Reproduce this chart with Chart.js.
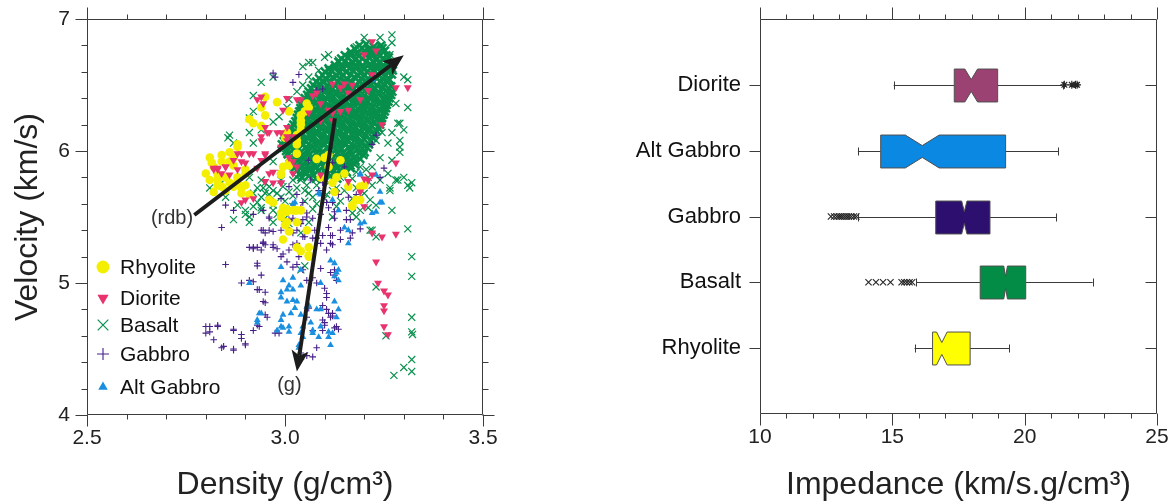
<!DOCTYPE html>
<html>
<head>
<meta charset="utf-8">
<script src="https://cdn.jsdelivr.net/npm/chart.js@4/dist/chart.umd.min.js"></script>
<style>
  html, body { margin: 0; padding: 0; background: #fff; overflow: hidden; }
  #velWrap { position: absolute; left: 0; top: 0; width: 560px; height: 504px; }
  #impWrap { position: absolute; left: 590px; top: 0; width: 583px; height: 504px; }
</style>
</head>
<body>
<div id="velWrap"><canvas id="velChart" width="560" height="504"></canvas></div>
<div id="impWrap"><canvas id="impChart" width="583" height="504"></canvas></div>
<script>
// ---- left panel: density vs velocity, [density, velocity] ----
const rhyolitePts = [
  [2.81,5.95],[2.80,5.83],[2.82,5.88],[2.84,5.97],[2.87,5.95],[2.88,6.03],[2.87,5.89],[2.85,5.80],[2.84,5.73],[2.87,5.73],
  [2.90,5.74],[2.90,5.83],[2.91,5.67],[2.89,5.68],[2.85,5.70],[2.83,5.78],[2.84,5.92],[2.82,5.69],[2.90,5.86],[2.88,5.76],
  [2.95,6.41],[2.98,6.37],[2.94,6.33],[2.95,6.27],[2.91,6.24],[2.92,6.21],[2.94,6.19],[3.01,6.30],[2.88,6.05],
  [3.06,6.33],[3.05,6.30],[3.04,6.27],[3.04,6.23],[3.04,6.20],[3.04,6.16],[3.03,6.12],[3.03,6.08],[3.03,6.05],[3.005,6.14],
  [3.00,6.10],[3.03,5.98],[3.055,6.36],[3.08,5.94],[3.11,5.97],[3.01,5.91],[2.99,5.83],[3.10,5.95],[3.14,5.93],[3.13,5.80],
  [3.12,5.76],[3.15,5.83],[3.125,5.69],[3.16,5.73],[3.19,5.73],[3.20,5.74],[3.18,5.63],[3.19,5.63],[3.17,5.58],[3.11,5.88],
  [3.09,5.80],[2.995,5.88],[3.01,5.89],[2.99,5.82],[2.96,5.63],[2.97,5.61],[2.995,5.57],[3.005,5.54],[3.025,5.55],[3.04,5.55],
  [2.99,5.50],[3.00,5.44],[2.995,5.33],[3.055,5.40],[3.03,5.46],[3.005,5.46],[2.99,5.53],[3.03,5.27],[3.04,5.24],[3.06,5.27],
  [3.06,5.20],[3.17,5.59],[3.005,5.56],[3.02,5.55],[3.01,5.39],[3.06,5.21],[3.03,5.55],
  [2.815,5.91],[2.83,5.82],[2.86,5.76],[2.86,5.92],[2.83,5.74],[2.88,5.80],[2.86,5.99],[2.81,5.78],[2.89,5.72]
];
const dioritePts = [
  [2.82,5.86],[2.83,5.86],[2.85,5.88],[2.86,5.82],[2.88,5.98],[2.89,5.92],[2.91,5.98],[2.88,5.86],[2.90,5.63],[2.92,5.64],
  [2.93,5.87],[2.94,5.93],[2.95,5.97],[2.97,5.84],[2.99,5.76],[3.02,5.92],[2.955,6.14],[2.94,6.08],[3.005,6.11],[2.98,6.14],
  [2.96,5.83],[2.97,5.76],[2.93,6.39],[2.94,6.41],[2.995,6.31],[2.95,6.18],[2.96,6.14],[2.94,6.11],[2.99,6.14],[3.005,6.18],
  [3.005,6.08],[3.02,6.11],[2.99,6.03],[3.01,5.95],[3.03,5.88],[2.95,5.98],[2.92,5.98],[2.89,5.98],[2.90,5.91],[2.87,5.93],
  [2.84,5.83],[2.83,5.87],[2.82,5.87],[2.85,5.88],[2.89,5.61],[2.95,5.77],[2.99,5.76],[3.02,5.83],[3.04,6.39],[3.07,6.42],
  [3.09,6.36],[3.06,6.29],[3.11,6.31],[3.12,6.29],[3.14,6.30],[3.16,6.31],[3.19,6.39],[3.15,6.51],[3.17,6.50],[3.21,6.46],
  [3.22,6.58],[3.22,6.83],[3.23,6.76],[3.20,6.73],[3.28,6.48],[3.31,6.48],[3.16,6.44],[3.14,6.48],[3.12,6.51],[3.09,6.23],
  [3.12,6.23],[3.08,6.44],[3.005,6.40],[3.03,6.39],[2.945,6.36],[3.28,5.91],[3.22,5.82],[3.21,5.78],[3.19,5.69],[3.20,5.58],
  [3.245,6.20],[3.22,5.38],[3.245,5.35],[3.28,5.37],[3.23,5.16],[3.235,5.00],[3.25,4.94],[3.26,4.91],[3.25,4.83],[3.25,4.79],
  [3.25,4.67],[3.26,4.61],[3.20,5.79],[3.09,5.82],[3.16,5.77]
];
// densely overplotted centre of the basalt cloud
const basaltCorePts = [
  [3.188,6.80],[3.205,6.81],[3.224,6.79],[3.243,6.80],
  [3.176,6.775],[3.194,6.78],[3.211,6.77],[3.229,6.775],[3.246,6.78],
  [3.166,6.75],[3.183,6.74],[3.201,6.76],[3.219,6.75],[3.236,6.74],[3.252,6.76],
  [3.151,6.725],[3.168,6.73],[3.186,6.72],[3.204,6.725],[3.222,6.73],[3.239,6.72],[3.256,6.725],
  [3.142,6.70],[3.159,6.71],[3.177,6.69],[3.195,6.70],[3.213,6.71],[3.230,6.69],[3.247,6.70],[3.262,6.71],
  [3.135,6.675],[3.152,6.68],[3.170,6.67],[3.188,6.675],[3.206,6.68],[3.224,6.67],[3.241,6.675],[3.258,6.68],
  [3.126,6.65],[3.144,6.64],[3.161,6.66],[3.180,6.65],[3.197,6.64],[3.215,6.66],[3.233,6.65],[3.250,6.64],[3.266,6.66],
  [3.110,6.625],[3.127,6.63],[3.145,6.62],[3.163,6.625],[3.181,6.63],[3.199,6.62],[3.216,6.625],[3.234,6.63],[3.251,6.62],[3.266,6.625],
  [3.101,6.60],[3.118,6.61],[3.136,6.59],[3.154,6.60],[3.172,6.61],[3.190,6.59],[3.207,6.60],[3.225,6.61],[3.243,6.59],[3.259,6.60],[3.272,6.61],
  [3.095,6.575],[3.112,6.58],[3.130,6.57],[3.148,6.575],[3.166,6.58],[3.184,6.57],[3.202,6.575],[3.220,6.58],[3.238,6.57],[3.255,6.575],[3.270,6.58],
  [3.086,6.55],[3.104,6.54],[3.121,6.56],[3.139,6.55],[3.157,6.54],[3.175,6.56],[3.193,6.55],[3.211,6.54],[3.229,6.56],[3.246,6.55],[3.264,6.54],
  [3.079,6.525],[3.097,6.53],[3.115,6.52],[3.133,6.525],[3.151,6.53],[3.169,6.52],[3.187,6.525],[3.205,6.53],[3.223,6.52],[3.241,6.525],[3.259,6.53],
  [3.071,6.50],[3.088,6.51],[3.106,6.49],[3.124,6.50],[3.142,6.51],[3.160,6.49],[3.178,6.50],[3.196,6.51],[3.214,6.49],[3.232,6.50],[3.250,6.51],[3.268,6.49],
  [3.066,6.475],[3.084,6.48],[3.102,6.47],[3.120,6.475],[3.138,6.48],[3.156,6.47],[3.174,6.475],[3.192,6.48],[3.210,6.47],[3.228,6.475],[3.246,6.48],[3.263,6.47],
  [3.060,6.45],[3.078,6.44],[3.096,6.46],[3.113,6.45],[3.131,6.44],[3.149,6.46],[3.167,6.45],[3.185,6.44],[3.203,6.46],[3.221,6.45],[3.239,6.44],[3.257,6.46],[3.271,6.45],
  [3.056,6.425],[3.074,6.43],[3.092,6.42],[3.110,6.425],[3.128,6.43],[3.146,6.42],[3.164,6.425],[3.182,6.43],[3.200,6.42],[3.218,6.425],[3.236,6.43],[3.254,6.42],[3.268,6.425],
  [3.050,6.40],[3.068,6.41],[3.086,6.39],[3.104,6.40],[3.122,6.41],[3.140,6.39],[3.158,6.40],[3.176,6.41],[3.194,6.39],[3.212,6.40],[3.230,6.41],[3.248,6.39],[3.264,6.40],
  [3.046,6.375],[3.064,6.38],[3.082,6.37],[3.100,6.375],[3.118,6.38],[3.136,6.37],[3.154,6.375],[3.172,6.38],[3.190,6.37],[3.208,6.375],[3.226,6.38],[3.244,6.37],[3.261,6.375],
  [3.041,6.35],[3.059,6.34],[3.077,6.36],[3.095,6.35],[3.113,6.34],[3.131,6.36],[3.149,6.35],[3.167,6.34],[3.185,6.36],[3.203,6.35],[3.221,6.34],[3.239,6.36],[3.257,6.35],
  [3.039,6.325],[3.057,6.33],[3.075,6.32],[3.093,6.325],[3.111,6.33],[3.129,6.32],[3.147,6.325],[3.165,6.33],[3.183,6.32],[3.201,6.325],[3.219,6.33],[3.237,6.32],[3.255,6.325],
  [3.036,6.30],[3.054,6.31],[3.072,6.29],[3.090,6.30],[3.108,6.31],[3.126,6.29],[3.144,6.30],[3.162,6.31],[3.180,6.29],[3.198,6.30],[3.216,6.31],[3.234,6.29],[3.252,6.30],
  [3.033,6.275],[3.051,6.28],[3.069,6.27],[3.087,6.275],[3.105,6.28],[3.123,6.27],[3.141,6.275],[3.159,6.28],[3.177,6.27],[3.195,6.275],[3.213,6.28],[3.231,6.27],[3.249,6.275],
  [3.030,6.25],[3.047,6.24],[3.065,6.26],[3.083,6.25],[3.101,6.24],[3.119,6.26],[3.137,6.25],[3.155,6.24],[3.173,6.26],[3.191,6.25],[3.209,6.24],[3.227,6.26],[3.245,6.25],
  [3.026,6.225],[3.044,6.23],[3.062,6.22],[3.080,6.225],[3.098,6.23],[3.116,6.22],[3.134,6.225],[3.152,6.23],[3.170,6.22],[3.188,6.225],[3.206,6.23],[3.224,6.22],[3.243,6.225],
  [3.021,6.20],[3.039,6.21],[3.057,6.19],[3.075,6.20],[3.093,6.21],[3.111,6.19],[3.129,6.20],[3.147,6.21],[3.165,6.19],[3.183,6.20],[3.201,6.21],[3.219,6.19],[3.240,6.20],
  [3.017,6.175],[3.035,6.18],[3.053,6.17],[3.071,6.175],[3.089,6.18],[3.107,6.17],[3.125,6.175],[3.143,6.18],[3.161,6.17],[3.179,6.175],[3.197,6.18],[3.215,6.17],[3.236,6.175],
  [3.012,6.15],[3.030,6.14],[3.048,6.16],[3.066,6.15],[3.084,6.14],[3.102,6.16],[3.120,6.15],[3.138,6.14],[3.156,6.16],[3.174,6.15],[3.192,6.14],[3.210,6.16],[3.232,6.15],
  [3.007,6.125],[3.025,6.13],[3.043,6.12],[3.061,6.125],[3.079,6.13],[3.097,6.12],[3.115,6.125],[3.133,6.13],[3.151,6.12],[3.169,6.125],[3.187,6.13],[3.205,6.12],[3.226,6.125],
  [3.002,6.10],[3.020,6.11],[3.038,6.09],[3.056,6.10],[3.074,6.11],[3.092,6.09],[3.110,6.10],[3.128,6.11],[3.146,6.09],[3.164,6.10],[3.182,6.11],[3.200,6.09],[3.222,6.10],
  [2.997,6.075],[3.015,6.08],[3.033,6.07],[3.051,6.075],[3.069,6.08],[3.087,6.07],[3.105,6.075],[3.123,6.08],[3.141,6.07],[3.159,6.075],[3.177,6.08],[3.195,6.07],[3.216,6.075],
  [2.992,6.05],[3.011,6.04],[3.029,6.06],[3.047,6.05],[3.065,6.04],[3.083,6.06],[3.101,6.05],[3.119,6.04],[3.137,6.06],[3.155,6.05],[3.173,6.04],[3.191,6.06],[3.212,6.05],
  [2.996,6.025],[3.016,6.03],[3.034,6.02],[3.052,6.025],[3.070,6.03],[3.088,6.02],[3.106,6.025],[3.124,6.03],[3.142,6.02],[3.160,6.025],[3.178,6.03],[3.196,6.02],[3.208,6.025],
  [3.003,6.00],[3.021,6.01],[3.039,5.99],[3.057,6.00],[3.075,6.01],[3.093,5.99],[3.111,6.00],[3.129,6.01],[3.147,5.99],[3.165,6.00],[3.183,6.01],[3.201,5.99],
  [3.007,5.975],[3.025,5.98],[3.043,5.97],[3.061,5.975],[3.079,5.98],[3.097,5.97],[3.115,5.975],[3.133,5.98],[3.151,5.97],[3.169,5.975],[3.187,5.98],[3.198,5.97],
  [3.012,5.95],[3.030,5.94],[3.048,5.96],[3.066,5.95],[3.084,5.94],[3.102,5.96],[3.120,5.95],[3.138,5.94],[3.156,5.96],[3.174,5.95],[3.190,5.94],
  [3.016,5.925],[3.034,5.93],[3.052,5.92],[3.070,5.925],[3.088,5.93],[3.106,5.92],[3.124,5.925],[3.142,5.93],[3.160,5.92],[3.178,5.925],
  [3.021,5.90],[3.039,5.91],[3.057,5.89],[3.075,5.90],[3.093,5.91],[3.111,5.89],[3.129,5.90],[3.147,5.91],[3.165,5.89],[3.176,5.90],
  [3.025,5.875],[3.043,5.88],[3.061,5.87],[3.079,5.875],[3.097,5.88],[3.115,5.87],[3.133,5.875],[3.151,5.88],[3.166,5.87],
  [3.030,5.85],[3.048,5.84],[3.066,5.86],[3.084,5.85],[3.102,5.84],[3.120,5.86],[3.138,5.85],[3.156,5.84],
  [3.036,5.825],[3.054,5.83],[3.072,5.82],[3.090,5.825],[3.108,5.83],[3.126,5.82],[3.144,5.825],
  [3.042,5.80],[3.060,5.81],[3.078,5.79],[3.096,5.80],[3.114,5.81],[3.132,5.79]
];
// scattered basalt samples around the core
const basaltPts = [
  [2.81,5.72],[2.856,6.10],[2.94,6.52],[2.92,6.42],[3.31,6.54],[3.31,6.33],[3.29,6.21],[3.29,5.99],[3.30,5.80],[3.32,5.76],
  [3.27,5.55],[3.27,6.88],[3.24,6.86],[3.18,6.79],[3.11,6.73],[3.06,6.67],[2.97,6.56],[3.31,5.41],[3.22,5.40],[3.32,5.20],
  [3.32,5.05],[3.23,4.97],[3.32,4.74],[3.32,4.63],[3.322,4.61],[3.255,4.60],[3.32,4.42],[3.30,4.36],[3.32,4.33],[3.275,4.30],
  [3.31,5.74],[3.28,5.78],[3.265,5.70],[2.86,6.12],[2.87,5.48],[2.91,5.50],[2.94,5.57],[2.92,5.58],[3.04,5.10],[3.05,5.13],
  [2.92,6.30],[2.91,6.25],[3.045,6.64],[3.07,6.67],[3.10,6.71],[3.135,6.69],[3.145,6.63],[3.11,6.61],[3.085,6.61],[3.06,6.56],
  [3.045,6.50],[3.03,6.45],[3.01,6.39],[3.005,6.33],[2.985,6.26],[2.94,6.16],[2.97,6.22],[3.20,6.86],[3.27,6.82],[3.265,6.73],
  [3.30,6.56],[3.28,6.36],[3.285,6.21],[3.30,6.16],[3.27,6.14],[3.29,6.08],[3.29,6.03],[3.27,5.93],[3.26,5.83],[3.285,5.78],
  [3.265,5.72],[3.315,5.72],[3.24,5.78],[3.22,5.88],[3.24,5.95],[3.26,6.06],[3.23,6.08],[3.245,6.14],
  [2.91,5.80],[2.93,5.72],[2.95,5.68],[2.96,5.73],[2.94,5.78],[2.98,5.68],[2.99,5.65],[2.93,5.61],[2.97,5.55],[3.04,5.78],
  [3.05,5.70],[3.07,5.65],[3.055,5.74],[3.165,5.91],[3.19,5.88],[3.205,5.86],[3.17,5.79],[3.20,5.68],[3.215,5.63],[3.23,5.59],
  [3.21,5.57],[3.17,5.53],[3.19,5.55],[3.15,5.70],[3.12,5.70],[3.105,5.67],[3.01,5.45],[3.04,5.38],[2.97,5.46],[3.215,5.40],
  [3.23,5.35],[2.91,6.14],[2.87,6.06],[2.84,5.76],[2.85,5.65],[2.88,5.59],[2.90,5.55],[2.92,5.68],[2.945,5.72],[2.94,5.65],
  [2.96,5.67],[2.97,5.59],[2.91,5.46],[2.90,5.52],[2.94,5.55],[2.995,5.73],[3.01,5.69],[3.02,5.78],[2.99,5.83],[3.005,5.88],
  [3.03,5.86],[2.97,5.92],[2.99,6.01],[3.005,5.98],[2.92,6.06],
  [2.95,5.76],[2.97,5.70],[2.99,5.78],[3.00,5.62],[3.02,5.66],[3.03,5.72],[3.05,5.62],[3.06,5.68],[3.08,5.74],[3.08,5.60],
  [3.10,5.64],[3.11,5.76],[3.13,5.72],[3.14,5.62],[3.16,5.76],[3.17,5.64],[3.18,5.72],[3.13,5.58],[3.07,5.56],[3.02,5.58],
  [2.98,5.52],[3.00,5.49],[3.06,5.46],[3.12,5.50],[3.18,5.50],[3.14,5.80],[3.18,5.84],[3.21,5.80],[3.22,5.74],[3.03,5.80]
];
const gabbroPts = [
  [2.97,6.59],[2.975,6.56],[3.035,6.58],[3.02,6.52],[3.08,6.46],[3.095,6.47],
  [2.91,5.27],[2.93,5.27],[2.945,5.30],[2.95,5.38],[2.93,5.15],[2.85,5.14],[2.94,5.06],[2.92,5.01],[2.93,4.95],[2.95,4.93],
  [2.89,5.00],[2.95,4.85],[2.95,4.76],[2.955,4.74],[2.93,4.68],[2.92,4.64],[2.89,4.61],[2.89,4.58],[2.87,4.64],[2.81,4.67],
  [2.81,4.63],[2.83,4.67],[2.82,4.57],[2.90,4.53],[2.87,4.49],[2.84,4.51],[2.975,4.62],[2.985,4.62],[2.97,5.39],[2.98,5.26],
  [2.995,5.22],[3.01,5.25],[3.02,5.29],[3.005,5.16],[3.02,5.12],[3.03,5.14],[3.045,5.10],[3.055,5.02],[3.07,5.04],[3.08,5.00],
  [3.10,4.96],[3.105,4.89],[3.095,4.83],[3.105,4.80],[3.12,4.77],[3.115,4.74],[3.095,4.72],[3.10,4.68],[3.125,4.66],[3.13,4.67],
  [3.06,4.81],[3.055,4.74],[3.07,4.64],[3.08,4.51],[3.055,4.45],[3.07,4.44],[3.04,4.42],[3.04,4.47],[3.115,5.08],[3.13,5.02],
  [3.125,5.10],[3.09,5.11],[3.115,5.30],[3.12,5.36],[3.095,5.36],[3.02,5.38],[3.045,5.35],[3.08,5.34],[2.99,5.20],[3.035,5.20],
  [3.105,5.61],[3.125,5.54],[3.155,5.48],[3.19,5.41],[3.17,5.38],[3.14,5.33],[3.12,5.29],[3.105,5.25],[3.125,5.06],[3.105,4.92],
  [3.11,4.77],[3.12,4.75],[3.10,4.70],[3.135,4.65],[3.095,4.64],
  [2.91,5.02],[2.935,4.95],[2.92,5.26],[2.94,5.25],[2.93,5.13],[2.945,4.86],[2.935,4.67],[2.90,4.54],[2.87,4.50],[2.845,4.52],
  [2.87,4.65],[2.80,4.67],[2.80,4.62],[2.83,4.68],
  [2.92,5.52],[2.945,5.55],[2.945,5.40],[2.96,5.50],[2.945,5.31],[2.97,5.27],[3.01,5.73],[3.03,5.67],[3.045,5.61],[3.055,5.53],
  [3.07,5.49],[3.045,5.48],[3.03,5.40],[3.05,5.35],[3.03,5.30],[3.075,5.40],[3.09,5.52],[3.11,5.57],[3.12,5.61],[3.135,5.67],
  [3.11,5.42],[3.125,5.49],[3.14,5.40],[3.115,5.36],[3.155,5.55],[3.16,5.65],[3.085,5.70],[3.095,5.76],[3.12,5.91],[3.15,5.88],
  [3.065,5.78],[3.06,5.93],[3.18,5.67],[3.165,5.48],[3.165,5.34],[3.09,5.30],[3.07,5.34],[2.96,5.40],[2.99,5.40],[3.02,5.49],
  [3.005,5.42],[2.84,5.42],[2.85,5.59],[2.87,5.55],[2.94,5.40],[2.95,5.29],[2.97,5.29],[2.96,5.49],[2.99,5.50],[3.01,5.48],
  [3.04,5.45],[3.055,5.50],[2.97,5.62],[2.99,5.64],[3.04,5.57],[2.92,5.27],[3.23,6.12],[3.22,6.05],[3.25,5.87],[3.24,5.80]
];
const altGabbroPts = [
  [2.995,5.02],[3.01,4.98],[3.02,5.04],[2.99,4.93],[3.005,4.86],[3.03,4.86],[3.025,4.81],[3.015,4.77],[2.995,4.76],[2.99,4.72],
  [2.98,4.64],[2.995,4.66],[3.01,4.67],[2.94,4.77],[2.93,4.70],[3.04,4.76],[3.045,4.67],[3.065,4.70],[3.07,4.64],[3.09,4.67],
  [3.085,4.59],[3.11,4.59],[3.12,4.62],[3.045,4.59],[3.06,4.83],[3.08,4.80],[3.125,5.15],[3.135,5.10],[3.125,5.05],[3.115,5.17],
  [3.125,4.86],[3.135,4.80],[3.13,4.74],[3.115,4.53],[3.035,4.51],[3.02,4.95],[3.04,4.98],[2.99,5.12],[3.04,5.10],[3.005,4.95],
  [3.02,4.87],[2.99,4.67],[3.01,4.63],[3.04,4.62],[3.07,4.62],[3.11,4.63],[3.035,4.53],[3.09,5.00],[3.13,5.08],[3.135,5.02],
  [3.15,5.42],[3.16,5.40],[3.19,5.45],[3.22,5.53],[3.24,5.61],[3.16,5.30],[3.09,4.80],[3.055,4.82],[2.99,4.89],[2.91,5.00],
  [3.085,5.68],[3.24,5.69],[3.245,5.61],[3.23,5.54],[3.20,5.46],[3.19,5.82],[3.025,5.61],[3.135,5.55],[2.935,4.77],[2.93,4.72],
  [3.22,6.54],[3.23,5.82],[3.02,5.60],[3.09,5.67],[3.12,5.63],[3.19,5.83]
];
const velTicksX = [2.5, 3.0, 3.5];
const velTicksY = [4, 5, 6, 7];
// arrows and their labels, in data units
const rdbArrow = [[2.771, 5.515], [3.300, 6.725]];
const gArrow = [[3.126, 6.248], [3.030, 4.330]];
const rdbLabel = [2.768, 5.49];
const gLabel = [3.011, 4.225];

// ---- right panel: impedance box plots ----
const boxCats = ['Diorite', 'Alt Gabbro', 'Gabbro', 'Basalt', 'Rhyolite'];
const boxLow = [15.05, 13.70, 13.72, 15.91, 15.84];
const boxQ1 = [17.34, 14.56, 16.64, 18.32, 16.52];
const boxMedian = [17.98, 16.13, 17.72, 19.28, 16.87];
const boxQ3 = [18.98, 19.28, 18.69, 20.04, 17.94];
const boxHigh = [21.43, 21.26, 21.20, 22.57, 19.42];
const boxNotch = [0.24, 0.64, 0.10, 0.07, 0.20];
const outDiorite = [21.50, 21.78, 21.92, 21.98];
const outGabbro = [12.68, 12.80, 12.90, 12.98, 13.05, 13.12, 13.20, 13.28, 13.36, 13.45, 13.55, 13.64];
const outBasalt = [14.10, 14.38, 14.65, 14.93, 15.35, 15.45, 15.55, 15.65, 15.75];
const impTicksX = [10, 15, 20, 25];

const FONT = "'Liberation Sans', Arial, Helvetica, sans-serif";
Chart.defaults.font.family = FONT;
Chart.defaults.color = '#222';

const COL = {
  rhyolite: '#f4ef00',
  diorite: '#e8336d',
  basalt: '#07904c',
  gabbro: '#47208a',
  altGabbro: '#1a8fe0'
};
const boxColors = ['#9b4272', '#0a88e2', '#2d0f6f', '#038c46', '#ffff00'];

const toXY = pts => pts.map(p => ({ x: p[0], y: p[1] }));

// stop tick labels from adding their own padding, so layout.padding sets the plot box
const noLabelPad = s => { s.paddingTop = 0; s.paddingBottom = 0; s.paddingLeft = 0; s.paddingRight = 0; };

function drawFrame(chart, cfg) {
  const { ctx, chartArea: a, scales: { x, y } } = chart;
  const L = Math.round(a.left) + 0.5, R = Math.round(a.right) - 0.5;
  const T = Math.round(a.top) + 0.5, B = Math.round(a.bottom) - 0.5;
  ctx.save();
  ctx.strokeStyle = '#3c3c3c';
  ctx.lineWidth = 1;
  ctx.beginPath();
  ctx.rect(L, T, R - L, B - T);
  const nx = Math.round((cfg.xMax - cfg.xMin) / cfg.xStep);
  for (let i = 0; i <= nx; i++) {
    const px = Math.round(x.getPixelForValue(cfg.xMin + i * cfg.xStep)) + 0.5;
    const len = i % cfg.xMajor === 0 ? 12 : 5;
    ctx.moveTo(px, B); ctx.lineTo(px, B + len);
    ctx.moveTo(px, T); ctx.lineTo(px, T - len);
  }
  const ny = Math.round((cfg.yMax - cfg.yMin) / cfg.yStep);
  for (let i = 0; i <= ny; i++) {
    const py = Math.round(y.getPixelForValue(cfg.yMin + i * cfg.yStep)) + 0.5;
    const len = i % cfg.yMajor === 0 ? cfg.yMajorLen : 6;
    ctx.moveTo(L, py); ctx.lineTo(L - len, py);
    ctx.moveTo(R, py); ctx.lineTo(cfg.rightIn ? R - len : R + len, py);
  }
  ctx.stroke();
  ctx.restore();
}

function drawArrow(ctx, x0, y0, x1, y1) {
  const ang = Math.atan2(y1 - y0, x1 - x0);
  const c = Math.cos(ang), s = Math.sin(ang);
  const head = 21, half = 8.5, back = 5;
  ctx.beginPath();
  ctx.moveTo(x0, y0);
  ctx.lineTo(x1 - (head - back) * c, y1 - (head - back) * s);
  ctx.stroke();
  const bx = x1 - head * c, by = y1 - head * s;
  ctx.beginPath();
  ctx.moveTo(x1, y1);
  ctx.lineTo(bx - half * s, by + half * c);
  ctx.lineTo(x1 - (head - back) * c, y1 - (head - back) * s);
  ctx.lineTo(bx + half * s, by - half * c);
  ctx.closePath();
  ctx.fill();
}

const velFramePlugin = {
  id: 'velFrame',
  afterDraw(chart) {
    drawFrame(chart, { xMin: 2.5, xMax: 3.5, xStep: 0.1, xMajor: 5, yMin: 4, yMax: 7, yStep: 0.2, yMajor: 5, yMajorLen: 12 });
  }
};

const velNotesPlugin = {
  id: 'velNotes',
  afterDatasetsDraw(chart) {
    const { ctx, scales: { x, y }, chartArea: a } = chart;
    ctx.save();
    ctx.strokeStyle = '#1c1c1c';
    ctx.fillStyle = '#1c1c1c';
    ctx.lineWidth = 4;
    [rdbArrow, gArrow].forEach(ar => {
      drawArrow(ctx, x.getPixelForValue(ar[0][0]), y.getPixelForValue(ar[0][1]),
        x.getPixelForValue(ar[1][0]), y.getPixelForValue(ar[1][1]));
    });
    ctx.fillStyle = '#333';
    ctx.font = '20px ' + FONT;
    ctx.textBaseline = 'middle';
    ctx.textAlign = 'right';
    ctx.fillText('(rdb)', x.getPixelForValue(rdbLabel[0]), y.getPixelForValue(rdbLabel[1]));
    ctx.textAlign = 'center';
    ctx.fillText('(g)', x.getPixelForValue(gLabel[0]), y.getPixelForValue(gLabel[1]));

    // legend, inside the plot area at lower left (first five datasets)
    const rows = [248, 279, 306, 335, 368];
    const sizes = [6.5, 6.5, 7.5, 6, 5.5];
    ctx.textAlign = 'left';
    chart.data.datasets.slice(0, 5).forEach((ds, k) => {
      const cx = a.left + 16, cy = a.top + rows[k];
      ctx.save();
      ctx.fillStyle = ds.backgroundColor;
      ctx.strokeStyle = ds.borderColor;
      ctx.lineWidth = ds.borderWidth || 1;
      Chart.helpers.drawPoint(ctx, {
        pointStyle: ds.pointStyle, rotation: ds.rotation || 0,
        radius: sizes[k], borderWidth: ds.borderWidth
      }, cx, cy);
      ctx.restore();
      ctx.font = '21px ' + FONT;
      ctx.fillStyle = '#111';
      ctx.fillText(ds.label, a.left + 33, cy + 1);
    });
    ctx.restore();
  }
};

new Chart(document.getElementById('velChart'), {
  type: 'scatter',
  data: {
    datasets: [
      { label: 'Rhyolite', data: toXY(rhyolitePts), pointStyle: 'circle', pointRadius: 4.3,
        backgroundColor: COL.rhyolite, borderColor: COL.rhyolite, borderWidth: 0, order: 2 },
      { label: 'Diorite', data: toXY(dioritePts), pointStyle: 'triangle', rotation: 180, pointRadius: 4.6,
        backgroundColor: COL.diorite, borderColor: COL.diorite, borderWidth: 0, order: 1 },
      { label: 'Basalt', data: toXY(basaltPts), pointStyle: 'crossRot', pointRadius: 5,
        backgroundColor: COL.basalt, borderColor: COL.basalt, borderWidth: 1.2, order: 5 },
      { label: 'Gabbro', data: toXY(gabbroPts), pointStyle: 'cross', pointRadius: 3.3,
        backgroundColor: COL.gabbro, borderColor: COL.gabbro, borderWidth: 1.1, order: 4 },
      { label: 'Alt Gabbro', data: toXY(altGabbroPts), pointStyle: 'triangle', pointRadius: 3.9,
        backgroundColor: COL.altGabbro, borderColor: COL.altGabbro, borderWidth: 0, order: 3 },
      { label: 'Basalt', data: toXY(basaltCorePts), pointStyle: 'crossRot', pointRadius: 5.6,
        backgroundColor: COL.basalt, borderColor: COL.basalt, borderWidth: 2.6, order: 6 }
    ]
  },
  options: {
    responsive: false,
    animation: false,
    events: [],
    layout: { padding: { top: 19, right: 77, left: 0, bottom: 0 } },
    plugins: { legend: { display: false }, tooltip: { enabled: false } },
    scales: {
      x: {
        type: 'linear', min: 2.5, max: 3.5,
        afterFit: s => { noLabelPad(s); s.height = 89; },
        afterBuildTicks: s => { s.ticks = velTicksX.map(v => ({ value: v })); },
        grid: { display: false, drawTicks: false },
        border: { display: false },
        ticks: { padding: 11, font: { size: 21 }, color: '#222', callback: v => v.toFixed(1) },
        title: { display: true, text: 'Density (g/cm³)', font: { size: 32 }, color: '#222', padding: { top: 0, bottom: 0 } }
      },
      y: {
        type: 'linear', min: 4, max: 7,
        afterFit: s => { noLabelPad(s); s.width = 87; },
        afterBuildTicks: s => { s.ticks = velTicksY.map(v => ({ value: v })); },
        grid: { display: false, drawTicks: false },
        border: { display: false },
        ticks: { padding: 17, font: { size: 21 }, color: '#222' },
        title: { display: true, text: 'Velocity (km/s)', font: { size: 32 }, color: '#222', padding: { top: 9, bottom: 0 } }
      }
    }
  },
  plugins: [velNotesPlugin, velFramePlugin]
});

// ---- right chart ----
const impFramePlugin = {
  id: 'impFrame',
  afterDraw(chart) {
    drawFrame(chart, { xMin: 10, xMax: 25, xStep: 1, xMajor: 5, yMin: 1, yMax: 5, yStep: 1, yMajor: 1, yMajorLen: 11, rightIn: true });
  }
};

const boxPlugin = {
  id: 'boxes',
  beforeDatasetsDraw(chart) {
    const { ctx, scales: { x, y } } = chart;
    const step = Math.abs(y.getPixelForValue(1) - y.getPixelForValue(0));
    const h = step * 0.25, hn = h * 0.36, cap = 4;
    const px = v => x.getPixelForValue(v);
    ctx.save();
    ctx.lineWidth = 1;
    boxCats.forEach((c, i) => {
      const yc = Math.round(y.getPixelForValue(i + 1)) + 0.5;
      ctx.strokeStyle = '#3a3a3a';
      ctx.beginPath();
      ctx.moveTo(px(boxLow[i]), yc); ctx.lineTo(px(boxQ1[i]), yc);
      ctx.moveTo(px(boxQ3[i]), yc); ctx.lineTo(px(boxHigh[i]), yc);
      [boxLow[i], boxHigh[i]].forEach(v => {
        const xx = Math.round(px(v)) + 0.5;
        ctx.moveTo(xx, yc - cap); ctx.lineTo(xx, yc + cap);
      });
      ctx.stroke();
      const q1 = px(boxQ1[i]), q3 = px(boxQ3[i]), m = px(boxMedian[i]);
      const nl = px(boxMedian[i] - boxNotch[i]), nr = px(boxMedian[i] + boxNotch[i]);
      ctx.beginPath();
      ctx.moveTo(q1, yc - h); ctx.lineTo(nl, yc - h); ctx.lineTo(m, yc - hn); ctx.lineTo(nr, yc - h); ctx.lineTo(q3, yc - h);
      ctx.lineTo(q3, yc + h); ctx.lineTo(nr, yc + h); ctx.lineTo(m, yc + hn); ctx.lineTo(nl, yc + h); ctx.lineTo(q1, yc + h);
      ctx.closePath();
      ctx.fillStyle = boxColors[i];
      ctx.fill();
      ctx.strokeStyle = '#505050';
      ctx.stroke();
    });
    ctx.restore();
  }
};

const outlierSet = (vals, row, style, r) => ({
  data: vals.map(v => ({ x: v, y: row })),
  pointStyle: style, pointRadius: r, borderColor: '#262626', backgroundColor: '#262626', borderWidth: 1.1
});

new Chart(document.getElementById('impChart'), {
  type: 'scatter',
  data: {
    datasets: [
      outlierSet(outDiorite, 1, 'star', 4),
      outlierSet(outGabbro, 3, 'crossRot', 4.4),
      outlierSet(outBasalt, 4, 'crossRot', 4.4)
    ]
  },
  options: {
    responsive: false,
    animation: false,
    events: [],
    layout: { padding: { top: 19, right: 16, left: 0, bottom: 0 } },
    plugins: { legend: { display: false }, tooltip: { enabled: false } },
    scales: {
      x: {
        type: 'linear', min: 10, max: 25,
        afterFit: s => { noLabelPad(s); s.height = 90; },
        afterBuildTicks: s => { s.ticks = impTicksX.map(v => ({ value: v })); },
        grid: { display: false, drawTicks: false },
        border: { display: false },
        ticks: { padding: 11, font: { size: 21 }, color: '#222' },
        title: { display: true, text: 'Impedance (km/s.g/cm³)', font: { size: 32 }, color: '#222', padding: { top: 0, bottom: 0 } }
      },
      y: {
        type: 'linear', min: 0, max: 6, reverse: true,
        afterFit: s => { noLabelPad(s); s.width = 170; },
        afterBuildTicks: s => { s.ticks = boxCats.map((c, i) => ({ value: i + 1 })); },
        grid: { display: false, drawTicks: false },
        border: { display: false },
        ticks: { padding: 19, font: { size: 22 }, color: '#111', callback: v => boxCats[v - 1] || '' }
      }
    }
  },
  plugins: [boxPlugin, impFramePlugin]
});
</script>
</body>
</html>
